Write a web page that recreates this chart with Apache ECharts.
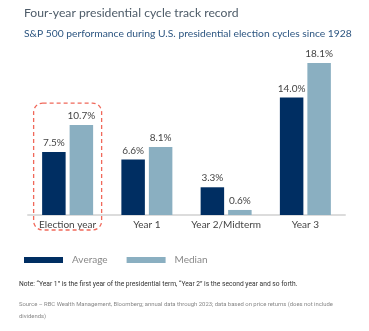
<!DOCTYPE html>
<html><head><meta charset="utf-8">
<script src="https://cdn.jsdelivr.net/npm/echarts@6/dist/echarts.min.js"></script>
<style>html,body{margin:0;padding:0;background:#fff}#c{width:369px;height:331px}</style>
</head><body><div id="c"></div>
<script>
var categories = ['Election year', 'Year 1', 'Year 2/Midterm', 'Year 3'];
var averageValues = [7.5, 6.6, 3.3, 14.0];
var medianValues = [10.7, 8.1, 0.6, 18.1];
var seriesNames = ['Average', 'Median'];
var titleText = 'Four-year presidential cycle track record';
var subtitleText = 'S&P 500 performance during U.S. presidential election cycles since 1928';
var noteText = 'Note: \u201cYear 1\u201d is the first year of the presidential term, \u201cYear 2\u201d is the second year and so forth.';
var sourceText = 'Source \u2013 RBC Wealth Management, Bloomberg; annual data through 2023; data based on price returns (does not include\ndividends)';

var font = 'Lato';
var chart = echarts.init(document.getElementById('c'), null, {renderer: 'canvas'});
var labelCfg = {show: true, position: 'top', distance: 4, color: '#444', fontSize: 10, fontFamily: font,
  formatter: function (p) { return p.value.toFixed(1) + '%'; }};
chart.setOption({
  animation: false,
  title: [
    {text: titleText, left: 19, top: 2, textStyle: {fontFamily: font, fontWeight: 'normal', fontSize: 12.2, color: '#4d5b68'}},
    {text: subtitleText, left: 19, top: 24, textStyle: {fontFamily: font, fontWeight: 'normal', fontSize: 10.3, color: '#2c5580'}}
  ],
  legend: {
    left: 19, top: 250, itemWidth: 39, itemHeight: 6, itemGap: 19, icon: 'rect',
    textStyle: {fontFamily: font, fontSize: 10, color: '#888', padding: [0, 0, 0, 4]},
    data: seriesNames
  },
  grid: {left: 28, right: 24, top: 47, bottom: 116},
  xAxis: {
    type: 'category', data: categories,
    axisLine: {lineStyle: {color: '#dcdcdc', width: 2}},
    axisTick: {show: false},
    axisLabel: {interval: 0, color: '#444', fontSize: 10, fontFamily: font, margin: 5}
  },
  yAxis: {type: 'value', min: 0, max: 20, show: false, splitLine: {show: false}},
  series: [
    {name: seriesNames[0], type: 'bar', data: averageValues, barWidth: 23.5, barGap: '17%',
     itemStyle: {color: '#002e62'}, label: labelCfg},
    {name: seriesNames[1], type: 'bar', data: medianValues, barWidth: 23.5,
     itemStyle: {color: '#8aafc1'}, label: labelCfg}
  ]
});

var cx = chart.convertToPixel({xAxisIndex: 0}, 0);
var yTop = chart.convertToPixel({yAxisIndex: 0}, Math.max(averageValues[0], medianValues[0]));
var yBase = chart.convertToPixel({yAxisIndex: 0}, 0);
chart.setOption({
  graphic: [
    {type: 'rect', shape: {x: cx - 34, y: yTop - 22, width: 68, height: yBase + 15 - (yTop - 22), r: 9},
     style: {fill: 'none', stroke: '#f0685a', lineWidth: 1.3, lineDash: [4, 3]}, z: 10},
    {type: 'text', left: 19, top: 281, style: {text: noteText, fontFamily: 'Roboto', fontSize: 6.7, fill: '#333'}},
    {type: 'text', left: 19, top: 299, style: {text: sourceText, fontFamily: 'Roboto', fontSize: 5.9, lineHeight: 12, fill: '#888'}}
  ]
});
</script></body></html>
